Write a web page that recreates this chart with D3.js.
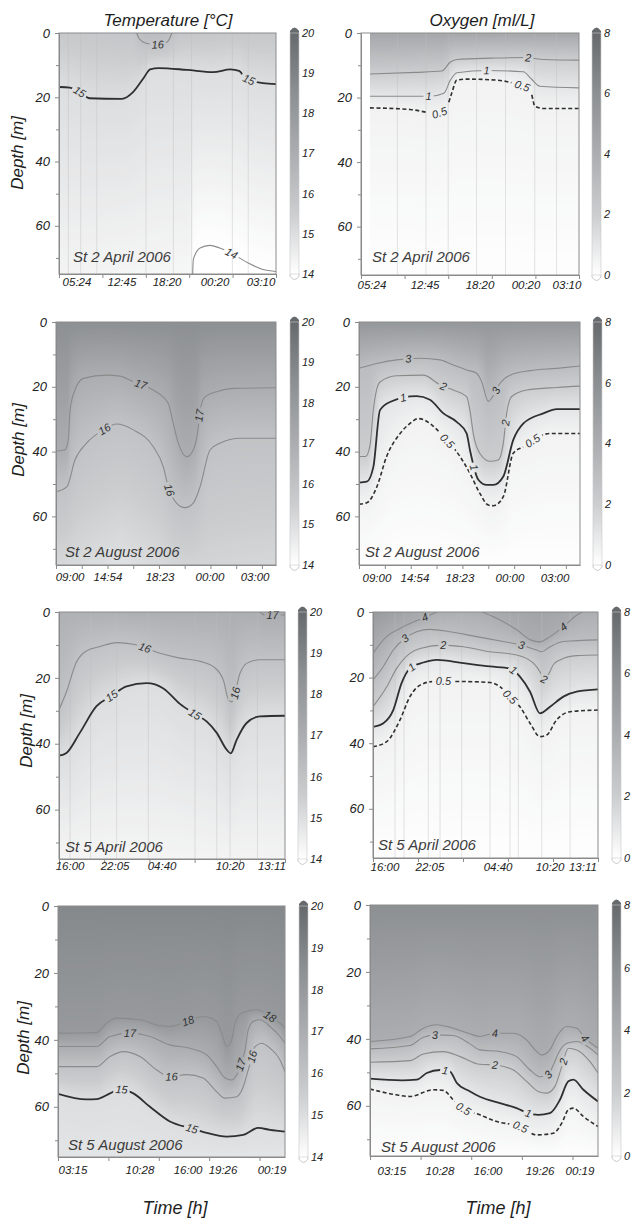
<!DOCTYPE html>
<html>
<head>
<meta charset="utf-8">
<script src="https://cdn.jsdelivr.net/npm/d3@7"></script>
<style>
body { margin: 0; background: #fff; }
svg text { font-family: "Liberation Sans", Arial, sans-serif; font-style: italic; }
</style>
</head>
<body>
<div id="chart"></div>
<script>
// x is the position along each cruise time axis (0 = first cast, 10 = last), depth in m
var tempRange = [14, 20];
var oxyRange = [0, 8];
var depthTicks = [0, 10, 20, 30, 40, 50, 60, 70];
var tempTicks = [14, 15, 16, 17, 18, 19, 20];
var oxyTicks = [0, 2, 4, 6, 8];

// ---- St 2 April 2006 ----
var st2AprTemp = [
    {level: 15, labels: [0.95, 8.75], pts: [[0,16.8],[0.5,17],[1.0,18.5],[1.4,20.3],[2.9,20.5],[3.4,18.5],[3.9,14],[4.2,11.3],[4.6,10.9],[5.9,11.5],[7.1,12.2],[7.9,11.3],[8.3,11.8],[8.6,14],[9.4,15.6],[10,15.9]]},
    {level: 16, labels: [4.55], pts: [[3.58,0],[3.7,1.8],[4.0,3.2],[4.5,3.6],[5.0,2.7],[5.2,0]]},
    {level: 14, labels: [7.95], pts: [[6.16,75],[6.19,70.5],[6.5,66.9],[6.95,66.1],[7.4,66.9],[7.9,68.4],[8.7,71.5],[9.4,73.6],[10,74.2]]}
];
var st2AprTempSurface = [[0,15.7],[3.4,15.85],[3.9,16.25],[4.6,16.3],[5.1,16.1],[5.6,15.8],[10,15.7]];
var st2AprTempBottom = [[0,14.35],[6.0,14.25],[6.3,13.9],[10,13.85]];
var st2AprTempTimes = [["05:24",0.83],["12:45",2.9],["18:20",4.98],["00:20",7.19],["03:10",9.31]];
var st2AprTempCasts = [0.43, 1.0, 1.74, 4.01, 5.27, 6.11, 7.99, 8.72];

var st2AprOxy = [
    {level: 2, labels: [7.67], pts: [[0.41,12.7],[2.5,12.2],[3.7,11.8],[4.1,9.0],[4.4,8.2],[6,7.8],[7.45,7.6],[8.4,8.2],[10,8.4]]},
    {level: 1, labels: [3.1, 5.76], pts: [[0.41,19.6],[3.2,19.6],[3.8,18.7],[4.1,14.6],[4.4,12.3],[5.8,11.6],[7.45,12.0],[7.8,14.1],[8.2,16.5],[10,17.0]]},
    {level: 0.5, labels: [3.6, 7.4], pts: [[0.41,23.2],[2.25,23.7],[3.47,24.9],[3.93,22.9],[4.16,18.7],[4.39,14.6],[4.85,14.3],[6.2,14.6],[7.0,15.6],[7.76,17.7],[7.98,22.7],[8.37,23.4],[10,23.4]]}
];
var st2AprOxySurface = [[0,4.4],[10,4.4]];
var st2AprOxyBottom = [[0,0.05],[10,0.05]];
var st2AprOxyTimes = [["05:24",0.5],["12:45",2.94],["18:20",5.46],["00:20",7.57],["03:10",9.45]];
var st2AprOxyCasts = [1.67, 2.98, 4.0, 5.3, 6.63, 7.97, 8.97];

// ---- St 2 August 2006 ----
var st2AugTemp = [
    {level: 17, labels: [3.85, 6.52], pts: [[0,39.8],[0.41,39.4],[0.56,36.4],[0.64,27.2],[0.86,21],[1.24,17.4],[2.3,16.4],[2.9,16.7],[3.5,18.4],[4.42,21],[5.1,25.1],[5.33,31.3],[5.56,37.4],[5.94,41.6],[6.24,39.5],[6.47,32.3],[6.55,27.2],[6.77,23.1],[7.3,21.5],[8.06,20.5],[10,20.3]]},
    {level: 16, labels: [2.2, 5.15], pts: [[0,52.4],[0.5,50.8],[0.86,42.6],[1.39,37.4],[2.15,33.3],[2.76,31.5],[3.52,33.3],[4.42,38.5],[4.88,44.7],[5.1,50.8],[5.48,55.9],[5.86,57.3],[6.24,55.9],[6.55,50.8],[7.0,39.5],[7.45,37.4],[8.36,35.9],[10,35.9]]}
];
var st2AugTempSurface = [[0,18.5],[10,18.5]];
var st2AugTempBottom = [[0,15.2],[3,14.9],[6,15.3],[10,15.2]];
var st2AugTempTimes = [["09:00",0.64],["14:54",2.36],["18:23",4.73],["00:00",7.0],["03:00",9.05]];
var st2AugTempCasts = [];

var st2AugOxy = [
    {level: 3, labels: [2.23, 6.2], pts: [[0,14.3],[0.8,12.8],[1.7,11.7],[2.76,11.2],[3.67,11.7],[4.27,13.3],[4.87,14.8],[5.32,15.8],[5.55,18.4],[5.85,24.5],[6.05,23],[6.38,18.9],[6.83,16.4],[7.74,15.0],[8.95,14.3],[10,13.6]]},
    {level: 2, labels: [3.82, 6.63], pts: [[0,41.5],[0.3,41.5],[0.5,38],[0.65,27],[0.95,18.5],[1.7,16.6],[2.91,16.4],[3.67,19.4],[4.27,21],[4.87,23],[5.02,27.2],[5.17,34.4],[5.47,40.6],[5.93,43.0],[6.3,42.6],[6.53,37.4],[6.68,28.2],[6.91,23],[7.59,21],[8.95,20.2],[10,19.8]]},
    {level: 1, labels: [2.0, 5.2], pts: [[0,49.6],[0.35,49.3],[0.65,44.7],[0.95,27.2],[1.4,24.7],[2.61,22.9],[3.21,24],[3.82,28.2],[4.42,30.8],[4.87,34.4],[5.02,39.5],[5.4,48.7],[5.78,50.3],[6.08,50.3],[6.53,47.7],[6.98,36.4],[7.44,31.3],[8.34,28.2],[8.95,26.9],[10,26.9]]},
    {level: 0.5, labels: [4.0, 7.85], pts: [[0,56.2],[0.35,55.8],[0.8,51],[1.25,41.5],[1.86,34.4],[2.31,31.3],[2.69,29.8],[3.21,31.3],[3.82,35.4],[4.57,41.5],[5.02,46.7],[5.47,52.9],[5.85,56.5],[6.08,56.7],[6.53,53.9],[6.98,40.5],[7.44,38.5],[8.64,34.4],[10,34.4]]}
];
var st2AugOxySurface = [[0,5.5],[10,5.5]];
var st2AugOxyBottom = [[0,0.05],[10,0.05]];
var st2AugOxyTimes = [["09:00",0.81],["14:54",2.53],["18:23",4.57],["00:00",6.83],["03:00",8.87]];
var st2AugOxyCasts = [];

// ---- St 5 April 2006 ----
var st5AprTemp = [
    {level: 17, labels: [9.45], pts: [[8.9,0],[9.1,0.9],[10,0.9]]},
    {level: 16, labels: [3.8, 7.8], pts: [[0,29.7],[0.33,24.2],[0.77,15.2],[1.22,11.8],[1.81,10.5],[2.55,9.3],[3.3,9.8],[4.47,12.5],[5.35,14.0],[6.24,15.0],[6.83,16.6],[7.27,20.6],[7.49,26.5],[7.65,27.3],[8.01,18.6],[8.3,15.6],[8.89,14.5],[10,14.5]]},
    {level: 15, labels: [2.33, 6.02], pts: [[0,43.6],[0.33,42.8],[0.92,36.7],[1.66,28.6],[2.32,25.5],[2.99,22.6],[3.88,21.6],[4.62,23.2],[5.35,27.9],[6.02,31],[6.53,33.2],[6.98,36.7],[7.42,41.8],[7.6,42.9],[7.86,38.8],[8.3,33.7],[8.89,31.7],[10,31.5]]}
];
var st5AprTempSurface = [[0,16.85],[8.3,16.95],[8.9,17.0],[9.3,17.15],[10,17.2]];
var st5AprTempBottom = [[0,14.3],[10,14.35]];
var st5AprTempTimes = [["16:00",0.49],["22:05",2.48],["04:40",4.56],["10:20",7.57],["13:11",9.42]];
var st5AprTempCasts = [0.49, 1.4, 2.55, 3.95, 6.02, 6.98, 7.57, 8.78];

var st5AprOxy = [
    {level: 4, labels: [2.3], pts: [[0,12.6],[0.6,7.5],[1.2,5],[2.3,1.6],[2.85,0]]},
    {level: 4, labels: [8.46], pts: [[4.85,0],[5.5,1.9],[6.4,5.5],[7.0,8.5],[7.4,9.1],[7.87,7.5],[8.46,4.5],[9.05,1.0],[9.3,0]]},
    {level: 3, labels: [1.42, 6.6], pts: [[0,20.7],[0.46,16.6],[0.9,11.6],[1.42,8.0],[1.94,6.0],[2.53,5.3],[3.42,6.0],[4.6,7.5],[5.79,9.0],[6.6,10.1],[7.27,11.6],[7.5,12.1],[7.87,10.6],[8.46,9.0],[10,8.5]]},
    {level: 2, labels: [3.13, 7.6], pts: [[0,28.9],[0.61,22.8],[1.05,17.2],[1.64,12.6],[2.09,11.1],[3.13,10.1],[4.02,10.6],[5.2,12.1],[6.39,13.1],[7.13,15.6],[7.42,18.2],[7.6,20.5],[7.8,19],[8.02,16],[8.31,14.6],[9.05,13.3],[10,13.1]]},
    {level: 1, labels: [1.72, 6.24], pts: [[0,35.0],[0.46,33.9],[0.9,29.9],[1.27,21.7],[1.64,17.2],[2.24,15.4],[2.83,14.6],[4.02,15.6],[5.2,16.6],[6.09,17.2],[6.53,19.7],[6.98,24.3],[7.42,30.9],[7.87,28.9],[8.46,25.8],[9.05,24.3],[10,23.6]]},
    {level: 0.5, labels: [3.13, 6.1], pts: [[0,41.1],[0.61,39.5],[1.2,32.9],[1.64,25.8],[2.09,22.3],[2.68,21.2],[3.87,21.2],[5.2,21.5],[5.65,22.8],[6.09,25.8],[6.53,28.9],[6.98,33.9],[7.42,38.0],[7.72,37.5],[8.16,32.9],[8.76,30.4],[10,29.9]]}
];
var st5AprOxySurface = [[0,5.3],[1.5,4.6],[2.85,4.0],[3.8,3.85],[4.85,4.0],[6,4.4],[7.4,4.7],[8.5,4.4],[9.3,4.0],[10,3.9]];
var st5AprOxyBottom = [[0,0.05],[10,0.05]];
var st5AprOxyTimes = [["16:00",0.53],["22:05",2.53],["04:40",5.56],["10:20",7.87],["13:11",9.33]];
var st5AprOxyCasts = [0.98, 1.38, 2.46, 2.98, 3.94, 5.2, 6.09, 6.46, 7.5, 8.76];

// ---- St 5 August 2006 ----
var st5AugTemp = [
    {level: 18, labels: [5.73, 9.34], pts: [[0,38],[1.7,37.8],[2.14,35],[2.58,33.5],[3.61,34],[4.49,35.8],[4.93,36],[5.73,34.3],[6.39,33],[6.99,34.5],[7.21,38],[7.43,42],[7.65,40],[7.8,35],[8.09,32],[8.75,31],[9.34,33],[9.78,35],[10,36.5]]},
    {level: 17, labels: [3.17, 8.05], pts: [[0,42],[1.7,42],[2.29,39],[3.17,38],[4.05,39],[4.93,41.5],[5.81,42.5],[6.55,44.5],[6.99,48],[7.36,51.4],[7.65,52],[7.87,50.4],[8.02,48],[8.24,43],[8.38,37],[8.6,34.5],[8.9,34],[9.34,36],[9.78,39],[10,41]]},
    {level: 16, labels: [5.0, 8.55], pts: [[0,48],[1.7,48],[2.29,45],[2.88,43.5],[3.61,45],[4.35,49],[4.93,51],[5.67,50.4],[6.39,51.4],[6.92,55],[7.36,57.4],[7.87,57],[8.16,54],[8.38,49],[8.53,45.5],[8.68,42],[8.97,41],[9.34,42.5],[9.78,46],[10,49.5]]},
    {level: 15, labels: [2.8, 5.9], pts: [[0,56.1],[1.26,57.8],[1.7,57.7],[2.29,56],[2.73,54.8],[3.32,56],[4.05,60],[4.93,64.4],[5.9,66.5],[6.55,67.8],[7.43,68.9],[8.16,68.4],[8.82,66.3],[9.34,66.9],[10,67.4]]}
];
var st5AugTempSurface = [[0,18.8],[10,18.8]];
var st5AugTempBottom = [[0,14.8],[10,14.8]];
var st5AugTempTimes = [["03:15",0.66],["10:28",3.61],["16:00",5.73],["19:26",7.27],["00:19",9.43]];
var st5AugTempCasts = [];

var st5AugOxy = [
    {level: 4, labels: [5.48, 9.43], pts: [[0,40.8],[1.75,39.3],[2.34,36.8],[2.92,35.8],[3.65,36.8],[4.39,38.5],[4.82,39.3],[5.48,38.3],[6.29,38.3],[6.87,40.3],[7.24,43.3],[7.53,44.8],[7.89,43.3],[8.19,39.3],[8.63,36.3],[9.07,36.8],[9.43,39.8],[9.79,41.8],[10,42.8]]},
    {level: 3, labels: [2.85, 7.82], pts: [[0,43],[1.75,42],[2.34,39.5],[2.92,38.8],[3.65,39],[4.39,41.5],[4.82,43.3],[5.7,43.8],[6.43,45.3],[7.02,49.3],[7.46,51.3],[7.82,50.7],[8.04,47.8],[8.26,44.3],[8.63,41.3],[9.07,40.8],[9.65,42.8],[10,44.8]]},
    {level: 2, labels: [5.48, 8.48], pts: [[0,47],[1.75,46.5],[2.34,44.5],[3.2,43.8],[3.95,45.3],[4.82,47.6],[5.48,47.8],[6.29,49.3],[6.87,52.7],[7.38,55.7],[7.75,56.2],[8.11,54.2],[8.41,48.3],[8.7,42.8],[9.07,43.3],[9.65,46.8],[10,50.2]]},
    {level: 1, labels: [3.3, 6.94], pts: [[0,51.9],[1.4,52.4],[2.05,52.2],[2.49,50.2],[3.07,49.3],[3.51,49.8],[3.8,53.1],[4.39,55.7],[4.82,57.3],[5.7,59.2],[6.43,60.7],[6.94,62.2],[7.38,62.7],[7.89,62.2],[8.33,58.2],[8.7,52.7],[8.92,52.2],[9.36,55.2],[10,58.7]]},
    {level: 0.5, labels: [4.1, 6.6], pts: [[0,55],[1.14,56.7],[1.75,57.2],[2.78,55.2],[3.22,55.4],[3.65,58.2],[4.02,60.5],[4.82,62.7],[5.56,64.7],[6.58,66.2],[7.31,68.7],[8.04,68.2],[8.41,65.2],[8.7,61.2],[8.92,60.7],[9.36,63.2],[10,66.2]]}
];
var st5AugOxySurface = [[0,6.0],[10,6.0]];
var st5AugOxyBottom = [[0,0.05],[10,0.05]];
var st5AugOxyTimes = [["03:15",0.96],["10:28",3.07],["16:00",5.18],["19:26",7.46],["00:19",9.21]];
var st5AugOxyCasts = [];

var width = 631, height = 1220;
var greyStops = ["#ffffff", "#cbcdcf", "#abadb0", "#8d9093", "#676a6d"];

// box = [left, right, top, bottom] of each plot area; bold = isolines drawn heavy
var panels = [
    {kind: "T", contours: st2AprTemp, surface: st2AprTempSurface, bottom: st2AprTempBottom, times: st2AprTempTimes, casts: st2AprTempCasts, station: "St 2 April 2006",
     box: [59, 276, 33, 274], cbX: 290, timeY: 286, stn: [73, 262], tickStep: 2, start: 0, bold: [15], depthLabel: [17, 153]},
    {kind: "O", contours: st2AprOxy, surface: st2AprOxySurface, bottom: st2AprOxyBottom, times: st2AprOxyTimes, casts: st2AprOxyCasts, station: "St 2 April 2006",
     box: [361, 579, 33, 275], cbX: 592, timeY: 289, stn: [372, 262], tickStep: 2, start: 0.41, bold: []},
    {kind: "T", contours: st2AugTemp, surface: st2AugTempSurface, bottom: st2AugTempBottom, times: st2AugTempTimes, casts: st2AugTempCasts, station: "St 2 August 2006",
     box: [56, 276, 322, 565], cbX: 290, timeY: 581, stn: [65, 557], tickStep: 1.17, start: 0, bold: [15], depthLabel: [18, 440]},
    {kind: "O", contours: st2AugOxy, surface: st2AugOxySurface, bottom: st2AugOxyBottom, times: st2AugOxyTimes, casts: st2AugOxyCasts, station: "St 2 August 2006",
     box: [359, 580, 322, 565], cbX: 593, timeY: 582, stn: [365, 557], tickStep: 1.17, start: 0, bold: [1]},
    {kind: "T", contours: st5AprTemp, surface: st5AprTempSurface, bottom: st5AprTempBottom, times: st5AprTempTimes, casts: st5AprTempCasts, station: "St 5 April 2006",
     box: [59, 285, 612, 859], cbX: 298, timeY: 870, stn: [65, 852], tickStep: 2, start: 0, bold: [15], depthLabel: [26, 731]},
    {kind: "O", contours: st5AprOxy, surface: st5AprOxySurface, bottom: st5AprOxyBottom, times: st5AprOxyTimes, casts: st5AprOxyCasts, station: "St 5 April 2006",
     box: [373, 598, 612, 858], cbX: 612, timeY: 871, stn: [378, 850], tickStep: 2, start: 0, bold: [1]},
    {kind: "T", contours: st5AugTemp, surface: st5AugTempSurface, bottom: st5AugTempBottom, times: st5AugTempTimes, casts: st5AugTempCasts, station: "St 5 August 2006",
     box: [58, 285, 906, 1157], cbX: 299, timeY: 1174, stn: [68, 1150], tickStep: 2.22, start: 0, bold: [15], depthLabel: [23, 1038]},
    {kind: "O", contours: st5AugOxy, surface: st5AugOxySurface, bottom: st5AugOxyBottom, times: st5AugOxyTimes, casts: st5AugOxyCasts, station: "St 5 August 2006",
     box: [370, 598, 905, 1156], cbX: 612, timeY: 1175, stn: [381, 1152], tickStep: 2.22, start: 0, bold: [1]}
];

var svg = d3.select("#chart")
    .append("svg")
    .attr("width", width)
    .attr("height", height);
var defs = svg.append("defs");

function greyScale(dom) {
    var stops = d3.range(5).map(function(i) { return dom[0] + (dom[1] - dom[0]) * i / 4; });
    return d3.scaleLinear().domain(stops).range(greyStops).clamp(true);
}

["T", "O"].forEach(function(k) {
    var grad = defs.append("linearGradient")
        .attr("id", "grad" + k)
        .attr("x1", 0).attr("y1", 1).attr("x2", 0).attr("y2", 0);
    greyStops.forEach(function(c, i) {
        grad.append("stop").attr("offset", i / 4).attr("stop-color", c);
    });
});

function lineStyle(p, level) {
    if (p.kind == "O" && level == 0.5) return {stroke: "#2f2f2f", width: 1.6, dash: "4,2.5"};
    if (p.bold.indexOf(level) >= 0) return {stroke: "#2f2f2f", width: 1.8, dash: null};
    return {stroke: "#8a8a8a", width: 1.1, dash: null};
}

function depthScale(pts) {
    return d3.scaleLinear()
        .domain(pts.map(function(d) { return d[0]; }))
        .range(pts.map(function(d) { return d[1]; }));
}

panels.forEach(function(p, i) {
    var L = p.box[0], R = p.box[1], T = p.box[2], B = p.box[3];
    var dom = p.kind == "T" ? tempRange : oxyRange;
    var x = d3.scaleLinear().domain([0, 10]).range([L, R]);
    var y = d3.scaleLinear().domain([0, 75]).range([T, B]);
    var color = greyScale(dom);
    var g = svg.append("g");

    var W = Math.round(R - L), H = Math.round(B - T);
    var image = g.append("image")
        .attr("x", L).attr("y", T)
        .attr("width", W).attr("height", H)
        .attr("preserveAspectRatio", "none");

    // faint cast lines
    g.selectAll(".cast")
        .data(p.casts)
        .enter()
        .append("line")
        .attr("x1", function(d) { return x(d); })
        .attr("x2", function(d) { return x(d); })
        .attr("y1", T).attr("y2", B)
        .attr("stroke", "#bdbdbd")
        .attr("stroke-opacity", 0.6)
        .attr("stroke-width", 0.7);

    // clip + mask so lines break under their labels
    defs.append("clipPath").attr("id", "clip" + i)
        .append("rect").attr("x", L).attr("y", T).attr("width", R - L).attr("height", B - T);
    var mask = defs.append("mask").attr("id", "mask" + i)
        .attr("maskUnits", "userSpaceOnUse")
        .attr("x", 0).attr("y", 0).attr("width", width).attr("height", height);
    mask.append("rect").attr("width", width).attr("height", height).attr("fill", "white");

    var line = d3.line()
        .x(function(d) { return x(d[0]); })
        .y(function(d) { return y(d[1]); })
        .curve(d3.curveMonotoneX);

    var lg = g.append("g")
        .attr("clip-path", "url(#clip" + i + ")")
        .append("g")
        .attr("mask", "url(#mask" + i + ")");
    var paths = lg.selectAll("path")
        .data(p.contours)
        .enter()
        .append("path")
        .attr("d", function(d) { return line(d.pts); })
        .attr("fill", "none")
        .attr("stroke", function(d) { return lineStyle(p, d.level).stroke; })
        .attr("stroke-width", function(d) { return lineStyle(p, d.level).width; })
        .attr("stroke-dasharray", function(d) { return lineStyle(p, d.level).dash; });

    // dense samples of the drawn curves, so the shading follows the lines
    var lines = [];
    paths.each(function(d) {
        var node = this, len = node.getTotalLength(), xs = [], ds = [];
        for (var s = 0; s <= len; s += 0.5) {
            var pt = node.getPointAtLength(s);
            var u = x.invert(pt.x);
            if (xs.length && u <= xs[xs.length - 1]) u = xs[xs.length - 1] + 1e-6;
            xs.push(u);
            ds.push(y.invert(pt.y));
        }
        lines.push({level: d.level, x0: xs[0], x1: xs[xs.length - 1], f: d3.scaleLinear().domain(xs).range(ds)});
    });

    var canvas = document.createElement("canvas");
    canvas.width = W;
    canvas.height = H;
    var ctx = canvas.getContext("2d");
    var img = ctx.createImageData(W, H);
    var lut = d3.range(256).map(function(k) { return d3.rgb(color(dom[0] + (dom[1] - dom[0]) * k / 255)); });
    var surf = depthScale(p.surface).clamp(true);
    var bot = depthScale(p.bottom).clamp(true);
    for (var c = 0; c < W; c++) {
        var u = x.invert(L + c + 0.5);
        var anchors = [[0, surf(u)]];
        lines.forEach(function(l) {
            if (u >= l.x0 && u <= l.x1) anchors.push([l.f(u), l.level]);
        });
        anchors.push([75, bot(u)]);
        anchors.sort(function(a, b) { return a[0] - b[0]; });
        var f = d3.scaleLinear().domain(anchors.map(function(a) { return a[0]; })).range(anchors.map(function(a) { return a[1]; }));
        for (var r = 0; r < H; r++) {
            var idx = (r * W + c) * 4;
            var col = {r: 255, g: 255, b: 255};
            if (u >= p.start) {
                var v = f(y.invert(T + r + 0.5));
                var k = Math.max(0, Math.min(255, Math.round((v - dom[0]) / (dom[1] - dom[0]) * 255)));
                col = lut[k];
            }
            img.data[idx] = col.r;
            img.data[idx + 1] = col.g;
            img.data[idx + 2] = col.b;
            img.data[idx + 3] = 255;
        }
    }
    ctx.putImageData(img, 0, 0);
    image.attr("href", canvas.toDataURL());

    // isoline labels
    var labelData = [];
    p.contours.forEach(function(ct, j) {
        var f = lines[j].f;
        var lo = lines[j].x0, hi = lines[j].x1;
        ct.labels.forEach(function(u) {
            var ua = Math.max(lo, u - 0.12), ub = Math.min(hi, u + 0.12);
            var ang = Math.atan2(y(f(ub)) - y(f(ua)), x(ub) - x(ua)) * 180 / Math.PI;
            labelData.push({text: String(ct.level), px: x(u), py: y(f(u)), ang: ang});
        });
    });

    mask.selectAll(".hole")
        .data(labelData)
        .enter()
        .append("rect")
        .attr("x", function(d) { return -(d.text.length * 6.2 + 4) / 2; })
        .attr("y", -5.5)
        .attr("width", function(d) { return d.text.length * 6.2 + 4; })
        .attr("height", 11)
        .attr("fill", "black")
        .attr("transform", function(d) { return "translate(" + d.px + "," + d.py + ") rotate(" + d.ang + ")"; });

    g.selectAll(".clab")
        .data(labelData)
        .enter()
        .append("text")
        .attr("transform", function(d) { return "translate(" + d.px + "," + d.py + ") rotate(" + d.ang + ")"; })
        .attr("dy", "0.35em")
        .attr("text-anchor", "middle")
        .attr("font-size", "11px")
        .attr("fill", "#333")
        .text(function(d) { return d.text; });

    // frame
    g.append("rect")
        .attr("x", L).attr("y", T)
        .attr("width", R - L).attr("height", B - T)
        .attr("fill", "none")
        .attr("stroke", "#8c8c8c")
        .attr("stroke-width", 1);

    // axes
    var ay = g.append("g")
        .attr("transform", "translate(" + L + ",0)")
        .call(d3.axisLeft(y).tickValues(depthTicks).tickSize(4).tickSizeOuter(0).tickPadding(5)
            .tickFormat(function(d) { return d % 20 ? "" : d; }));
    ay.attr("font-size", 13);
    ay.select(".domain").attr("stroke", "#8a8a8a");
    ay.selectAll(".tick line").attr("stroke", "#8a8a8a")
        .attr("x2", function(d) { return d % 20 ? -3 : -4; });
    ay.selectAll(".tick text").attr("fill", "#222");

    var ax = g.append("g")
        .attr("transform", "translate(0," + B + ")")
        .call(d3.axisBottom(x).tickValues(d3.range(0, 10.001, p.tickStep)).tickSize(4).tickSizeOuter(0).tickFormat(""));
    ax.select(".domain").attr("stroke", "#8a8a8a");
    ax.selectAll(".tick line").attr("stroke", "#8a8a8a");

    g.selectAll(".tlab")
        .data(p.times)
        .enter()
        .append("text")
        .attr("x", function(d) { return x(d[1]); })
        .attr("y", p.timeY)
        .attr("text-anchor", "middle")
        .attr("font-size", "11.5px")
        .attr("fill", "#222")
        .text(function(d) { return d[0]; });

    // station name
    g.append("text")
        .attr("x", p.stn[0]).attr("y", p.stn[1])
        .attr("font-size", "15px")
        .attr("fill", "#3c3c3c")
        .text(p.station);

    // colour bar
    var cbW = 9, cb = d3.scaleLinear().domain(dom).range([B, T]);
    g.append("path")
        .attr("d", "M" + p.cbX + "," + T + " L" + p.cbX + "," + (T - 2) + " Q" + (p.cbX + cbW / 2) + "," + (T - 9) + " " + (p.cbX + cbW) + "," + (T - 2) + " L" + (p.cbX + cbW) + "," + T + " Z")
        .attr("fill", greyStops[4]);
    g.append("path")
        .attr("d", "M" + p.cbX + "," + B + " L" + p.cbX + "," + (B + 2) + " Q" + (p.cbX + cbW / 2) + "," + (B + 9) + " " + (p.cbX + cbW) + "," + (B + 2) + " L" + (p.cbX + cbW) + "," + B)
        .attr("fill", "#fff")
        .attr("stroke", "#bbb")
        .attr("stroke-width", 0.8);
    g.append("rect")
        .attr("x", p.cbX).attr("y", T)
        .attr("width", cbW).attr("height", B - T)
        .attr("fill", "url(#grad" + p.kind + ")")
        .attr("stroke", "#c8c8c8")
        .attr("stroke-width", 0.6);
    g.selectAll(".cblab")
        .data(p.kind == "T" ? tempTicks : oxyTicks)
        .enter()
        .append("text")
        .attr("x", p.cbX + 12)
        .attr("y", function(d) { return cb(d); })
        .attr("dy", "0.35em")
        .attr("font-size", "11px")
        .attr("fill", "#222")
        .text(function(d) { return d; });

    if (p.depthLabel) {
        g.append("text")
            .attr("transform", "translate(" + p.depthLabel[0] + "," + p.depthLabel[1] + ") rotate(-90)")
            .attr("dy", "0.35em")
            .attr("text-anchor", "middle")
            .attr("font-size", "17px")
            .attr("fill", "#1e1e1e")
            .text("Depth [m]");
    }
});

svg.append("text")
    .attr("x", 168).attr("y", 26)
    .attr("text-anchor", "middle")
    .attr("font-size", "17px")
    .attr("fill", "#1e1e1e")
    .text("Temperature [°C]");
svg.append("text")
    .attr("x", 482).attr("y", 26)
    .attr("text-anchor", "middle")
    .attr("font-size", "17px")
    .attr("fill", "#1e1e1e")
    .text("Oxygen [ml/L]");
[175, 498].forEach(function(cx) {
    svg.append("text")
        .attr("x", cx).attr("y", 1214)
        .attr("text-anchor", "middle")
        .attr("font-size", "18px")
        .attr("fill", "#1e1e1e")
        .text("Time [h]");
});
</script>
</body>
</html>
